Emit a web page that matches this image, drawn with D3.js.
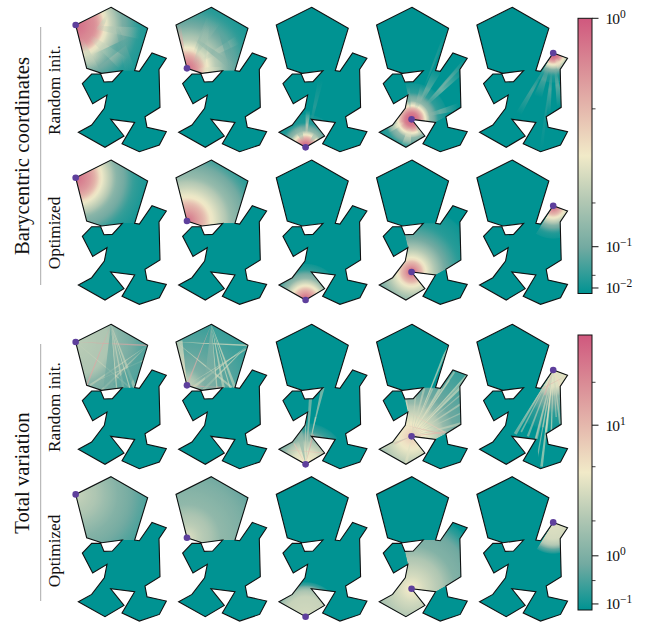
<!DOCTYPE html>
<html lang="en">
<head>
    <meta charset="UTF-8">
    <title>Barycentric coordinates and total variation</title>
    <script src="https://d3js.org/d3.v7.min.js"></script>
    <style>
        body { margin: 0; background: #fff; }
        svg { display: block; }
        text { font-family: "Liberation Serif", serif; fill: #111; }
    </style>
</head>
<body>
    <svg></svg>
    <script>
        const width = 656, height = 622;

        // shape outline
        const shapeX = [153, 263, 224, 238, 276, 319, 297, 300, 255, 261, 319, 298, 238, 186, 224, 152, 192, 135, 55, 95, 133, 141, 98, 67, 95, 122, 132, 157, 187, 125, 80, 47];
        const shapeY = [22, 85, 212, 214, 159, 175, 208, 322, 350, 382, 395, 435, 455, 431, 367, 358, 408, 442, 397, 375, 325, 285, 311, 251, 222, 222, 246, 245, 212, 220, 205, 75];

        // vertex each column is centred on, and the part of the shape it reaches
        const sourceVertex = [31, 30, 17, 15, 4];
        const pentagon = [31, 0, 1, 2, 28, 29, 30];
        const cells = [
            pentagon,
            pentagon,
            [17, 18, 19, 20, 21, 26, 27, 28, 2, 8, 14, 15, 16],
            [17, 18, 19, 20, 21, 26, 27, 28, 1, 2, 3, 4, 5, 6, 7, 8, 14, 15, 16],
            [4, 5, 6, 7, 8, 9, 10, 11, 12, 14, 15]
        ];

        // falloff from the vertex per column: [distances], [values]
        const baryRandom = [
            [[0, 60, 85, 105, 140, 190, 250], [.9, .7, .38, .25, .11, .045, .008]],
            [[0, 25, 55, 85, 130, 190, 250], [.9, .7, .38, .22, .1, .04, .008]],
            [[0, 15, 35, 50, 75, 100], [1, .8, .4, .15, .03, .008]],
            [[0, 20, 38, 55, 80, 110], [1, .8, .4, .15, .05, .008]],
            [[0, 18, 32, 50, 70, 90], [1, .8, .4, .12, .03, .008]]
        ];
        const baryOptimized = [
            [[0, 45, 75, 120, 170, 230], [.9, .65, .36, .14, .06, .008]],
            [[0, 30, 70, 130, 190, 250], [.9, .65, .36, .16, .07, .008]],
            [[0, 25, 42, 65, 90, 110], [1, .6, .36, .15, .05, .008]],
            [[0, 15, 40, 70, 100, 150, 200], [1, .7, .36, .2, .1, .04, .008]],
            [[0, 20, 35, 60, 85, 100], [1, .6, .36, .12, .03, .008]]
        ];
        const tvRandom = [
            [[0, 100, 130, 200, 260], [2.5, 2, 1.2, .6, .4]],
            [[0, 50, 100, 170, 250], [3, 1, .7, .45, .25]],
            [[0, 40, 73, 100, 125], [5, 4, 1.5, .4, .08]],
            [[0, 30, 60, 100, 130, 200, 250, 320], [8, 5, 3.5, 1.5, .8, .5, .35, .2]],
            [[0, 50, 80, 130, 180], [4, 4, 1.2, .3, .08]]
        ];
        const tvOptimized = [
            [[0, 60, 130, 200, 270], [3, 2, 1.1, .6, .2]],
            [[0, 40, 100, 170, 230, 290], [4, 2.5, 1.4, 1, .6, .12]],
            [[0, 60, 80, 95, 105], [3.5, 3, 1.8, .4, .08]],
            [[0, 40, 100, 130, 180, 210, 230], [5, 3.5, 1.8, 1.1, .8, .3, .08]],
            [[0, 50, 65, 80, 95], [4, 3.5, 2.5, .7, .08]]
        ];

        // streaks per column: [from vertex, to x, to y, width, value]
        const baryRandomRays = [
            [[31, 240, 100, 35, .2], [31, 190, 190, 40, .25], [31, 105, 215, 30, .25], [0, 115, 95, 20, .25], [0, 210, 210, 30, .09], [1, 110, 180, 40, .07]],
            [[30, 47, 75, 30, .6], [30, 232, 120, 25, .2], [30, 188, 210, 20, .3], [30, 160, 60, 45, .15], [0, 115, 200, 40, .18], [0, 220, 195, 30, .08], [31, 230, 210, 25, .12]],
            [[17, 142, 330, 14, .4], [17, 180, 240, 16, .06], [17, 110, 380, 25, .15], [17, 175, 395, 20, .15]],
            [[15, 300, 210, 25, .2], [15, 320, 175, 14, .12], [15, 260, 85, 10, .06], [15, 295, 320, 22, .15], [15, 190, 260, 25, .15], [15, 230, 210, 25, .14], [15, 135, 442, 30, .3], [15, 80, 390, 20, .35], [15, 190, 400, 30, .2], [15, 140, 260, 14, .1]],
            [[4, 170, 340, 22, .1], [4, 297, 320, 20, .15], [4, 260, 340, 16, .12], [4, 240, 450, 10, .05], [4, 230, 290, 25, .1], [4, 300, 210, 20, .4]]
        ];
        const tvRandomRays = [
            [[31, 263, 85, 5, 14], [0, 80, 205, 5, 14], [0, 224, 212, 10, 3], [0, 190, 212, 7, 3], [1, 90, 205, 6, 3], [1, 125, 220, 6, 3], [31, 210, 212, 5, 3], [30, 250, 130, 4, 3], [0, 150, 215, 40, .8], [1, 180, 215, 50, .6], [0, 210, 215, 4, 4], [0, 170, 215, 4, 4]],
            [[30, 47, 75, 40, 5], [31, 263, 85, 5, 5], [30, 190, 212, 6, 14], [0, 80, 205, 5, 12], [0, 224, 212, 9, 3.5], [0, 190, 212, 8, 3.5], [1, 100, 210, 8, 3.5], [1, 130, 218, 7, 3.5], [31, 215, 212, 7, 3.5], [0, 150, 215, 40, 1], [0, 210, 215, 4, 4], [0, 170, 215, 4, 4], [30, 260, 95, 4, 3]],
            [[17, 150, 240, 10, 2], [15, 187, 212, 10, 2.5], [17, 158, 352, 5, 14], [17, 100, 379, 4, 9], [18, 190, 408, 3, 9], [17, 115, 340, 20, 1.5], [17, 165, 300, 5, 3], [17, 135, 300, 4, 3]],
            [[15, 320, 172, 6, 4], [15, 300, 210, 8, 4], [15, 298, 262, 6, 3], [15, 300, 320, 9, 3], [15, 255, 345, 6, 10], [15, 260, 88, 7, 4], [15, 240, 212, 9, 4], [15, 190, 214, 7, 3], [15, 135, 250, 7, 4], [15, 280, 165, 6, 3], [15, 135, 442, 10, 4], [15, 100, 380, 7, 10], [20, 240, 350, 4, 11], [15, 190, 405, 8, 4], [15, 298, 235, 4, 2.5], [15, 310, 190, 4, 2.5], [15, 265, 190, 4, 3], [15, 215, 215, 5, 3], [15, 165, 225, 5, 3], [15, 297, 290, 4, 2.5], [21, 250, 345, 4, 8], [15, 60, 395, 8, 3]],
            [[4, 161, 350, 12, 2.5], [4, 241, 449, 8, 4], [4, 297, 320, 7, 3], [4, 255, 345, 7, 4], [4, 225, 365, 9, 2.5], [4, 200, 358, 7, 2.5], [4, 270, 360, 5, 4], [4, 300, 210, 10, 6], [5, 222, 225, 4, 12], [4, 250, 235, 5, 12], [4, 285, 300, 4, 3], [4, 245, 330, 5, 2.5], [4, 180, 345, 5, 2.5], [4, 215, 400, 5, 2.5], [4, 225, 440, 5, 2.5]]
        ];

        // colour bars: tick values and where they sit along the bar (0 bottom, 1 top)
        const tealRose = ["#009392", "#72aaa1", "#b1c7b3", "#f1eac8", "#e5b9ad", "#d98994", "#d0587e"];
        const baryTicks = [.008, .01, .05, .1, .2, .5, 1];
        const baryTickPos = [0, .02, .066, .17, .329, .671, 1];
        const tvTicks = [.08, .1, .5, 1, 2, 5, 10, 20, 36];
        const tvTickPos = [0, .022, .107, .197, .324, .521, .672, .828, 1];
        const baryMajor = [[1, "0"], [.1, "\u22121"], [.01, "\u22122"]];
        const baryMinor = [.5, .2, .05];
        const tvMajor = [[10, "1"], [1, "0"], [.1, "\u22121"]];
        const tvMinor = [20, 5, 2, .5];

        const rowLabels = ["Random init.", "Optimized", "Random init.", "Optimized"];
        const groupLabels = ["Barycentric coordinates", "Total variation"];

        const columnLeft = d3.scaleLinear().domain([0, 4]).range([60, 461.2]);
        const rowTop = [0, 152.7, 317, 469.4];
        const sx = d3.scaleLinear().domain([0, 300]).range([0, 100]);
        const sy = d3.scaleLinear().domain([0, 300]).range([0, 100]);
        const cmap = d3.scaleLinear().domain(d3.range(7).map(i => i / 6)).range(tealRose).clamp(true);
        const baryNorm = d3.scaleLinear().domain(baryTicks).range(baryTickPos).clamp(true);
        const tvNorm = d3.scaleLinear().domain(tvTicks).range(tvTickPos).clamp(true);

        const svg = d3.select("svg").attr("width", width).attr("height", height);
        const defs = svg.append("defs");

        const pt = i => [sx(shapeX[i]), sy(shapeY[i])];
        const pathOf = idx => "M" + idx.map(i => pt(i).join(",")).join("L") + "Z";
        const shapePath = pathOf(d3.range(shapeX.length));

        cells.forEach((c, i) => {
            defs.append("clipPath").attr("id", "cell" + i).append("path").attr("d", pathOf(c));
        });

        let gradId = 0;

        function radial(center, table, norm) {
            const id = "g" + gradId++;
            const dists = table[0];
            const maxD = dists[dists.length - 1];
            const profile = d3.scaleLinear().domain(dists).range(table[1]);
            const g = defs.append("radialGradient").attr("id", id)
                .attr("gradientUnits", "userSpaceOnUse")
                .attr("cx", center[0]).attr("cy", center[1]).attr("r", sx(maxD));
            d3.range(33).forEach(k => {
                g.append("stop").attr("offset", k / 32)
                    .attr("stop-color", cmap(norm(profile(maxD * k / 32))));
            });
            return id;
        }

        function ray(layer, r, norm, faded) {
            const a = pt(r[0]);
            const b = [sx(r[1]), sy(r[2])];
            const len = Math.hypot(b[0] - a[0], b[1] - a[1]);
            const nx = -(b[1] - a[1]) / len, ny = (b[0] - a[0]) / len;
            const w = sx(r[3]) / 2;
            const id = "g" + gradId++;
            const g = defs.append("linearGradient").attr("id", id)
                .attr("gradientUnits", "userSpaceOnUse")
                .attr("x1", a[0]).attr("y1", a[1]).attr("x2", b[0]).attr("y2", b[1]);
            const col = cmap(norm(r[4]));
            const stops = faded ? [[0, 0], [.3, 0], [.6, .6], [1, 0]] : [[0, .85], [1, .55]];
            stops.forEach(s => {
                g.append("stop").attr("offset", s[0]).attr("stop-color", col).attr("stop-opacity", s[1]);
            });
            layer.append("path")
                .attr("d", `M${a}L${b[0] + nx * w},${b[1] + ny * w}L${b[0] - nx * w},${b[1] - ny * w}Z`)
                .attr("fill", `url(#${id})`);
        }

        const rows = [
            { base: baryRandom, rays: baryRandomRays, norm: baryNorm, faded: true },
            { base: baryOptimized, rays: null, norm: baryNorm },
            { base: tvRandom, rays: tvRandomRays, norm: tvNorm, faded: false },
            { base: tvOptimized, rays: null, norm: tvNorm }
        ];

        rows.forEach((row, r) => {
            sourceVertex.forEach((src, c) => {
                const g = svg.append("g").attr("transform", `translate(${columnLeft(c)},${rowTop[r]})`);
                g.append("path").attr("d", shapePath).attr("fill", cmap(0));

                const field = g.append("g").attr("clip-path", `url(#cell${c})`);
                const id = radial(pt(src), row.base[c], row.norm);
                // the sliver up into the pentagon only ever holds streaks
                const fieldCell = c > 1 ? cells[c].filter(v => v !== 1) : cells[c];
                field.append("path").attr("d", pathOf(fieldCell)).attr("fill", `url(#${id})`);
                if (row.rays) row.rays[c].forEach(d => ray(field, d, row.norm, row.faded));

                g.append("path").attr("d", shapePath)
                    .attr("fill", "none").attr("stroke", "#111").attr("stroke-width", 1.1)
                    .attr("stroke-linejoin", "miter");
                g.append("circle").attr("cx", pt(src)[0]).attr("cy", pt(src)[1]).attr("r", 3.3)
                    .attr("fill", "#5e3f9c");
            });
        });

        // colour bars
        function colorbar(top, bottom, ticks, pos, major, minor, name) {
            const y = d3.scaleLinear().domain(pos).range(pos.map(p => bottom + (top - bottom) * p));
            const yv = v => y(d3.scaleLinear().domain(ticks).range(pos)(v));
            const x0 = 578, x1 = 592;

            const grad = defs.append("linearGradient").attr("id", name)
                .attr("x1", 0).attr("y1", 1).attr("x2", 0).attr("y2", 0);
            tealRose.forEach((col, i) => {
                grad.append("stop").attr("offset", i / 6).attr("stop-color", col);
            });
            svg.append("rect").attr("x", x0).attr("y", top).attr("width", x1 - x0).attr("height", bottom - top)
                .attr("fill", `url(#${name})`).attr("stroke", "#111").attr("stroke-width", 1);

            const axis = svg.append("g").attr("transform", `translate(${x1},0)`);
            axis.selectAll(".minor").data(minor).enter().append("line").attr("class", "minor")
                .attr("x2", 3.5).attr("y1", yv).attr("y2", yv).attr("stroke", "#111").attr("stroke-width", .8);
            axis.selectAll(".major").data(major).enter().append("line").attr("class", "major")
                .attr("x2", 6.5).attr("y1", d => yv(d[0])).attr("y2", d => yv(d[0])).attr("stroke", "#111").attr("stroke-width", 1);
            const label = axis.selectAll("text").data(major).enter().append("text")
                .attr("x", 13.5).attr("y", d => yv(d[0]) + 5.5)
                .style("font-size", "15.5px");
            label.append("tspan").style("letter-spacing", "-1px").text("10");
            label.append("tspan").attr("dx", 1).attr("dy", -6).style("font-size", "11.5px").text(d => d[1]);
        }
        colorbar(18.3, 293.5, baryTicks, baryTickPos, baryMajor, baryMinor, "barA");
        colorbar(335, 610, tvTicks, tvTickPos, tvMajor, tvMinor, "barB");

        // side labels
        function vertical(x, y, text, size) {
            svg.append("text").attr("transform", `translate(${x},${y}) rotate(-90)`)
                .attr("text-anchor", "middle").style("font-size", size + "px").text(text);
        }
        vertical(29, 156, groupLabels[0], 20.8);
        vertical(29, 473, groupLabels[1], 20.8);
        [90, 233, 407, 551].forEach((cy, i) => vertical(60, cy, rowLabels[i], 17.2));
        [[27, 285], [344, 601]].forEach(d => {
            svg.append("line").attr("x1", 40.7).attr("x2", 40.7).attr("y1", d[0]).attr("y2", d[1])
                .attr("stroke", "#aaa").attr("stroke-width", 1);
        });
    </script>
</body>
</html>
